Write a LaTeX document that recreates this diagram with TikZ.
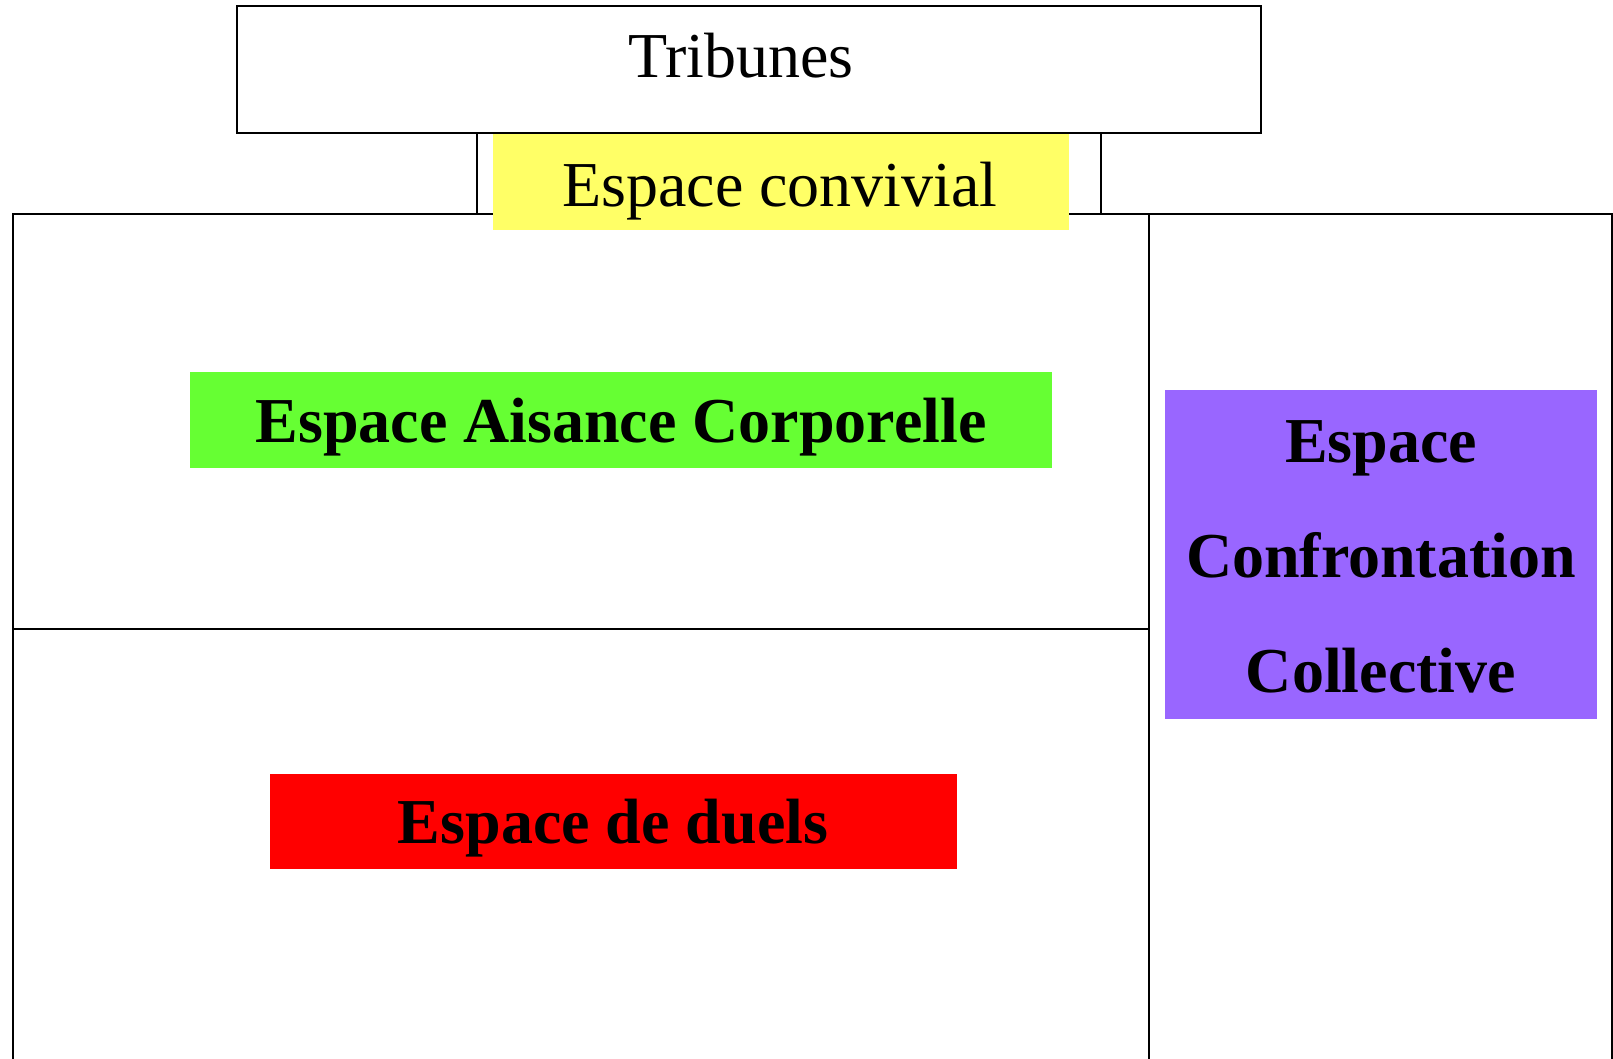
\documentclass[tikz,border=0pt]{standalone}
\usepackage{fontspec}
\setmainfont{Liberation Serif}
\definecolor{convyellow}{HTML}{FFFF66}
\definecolor{aisgreen}{HTML}{66FF33}
\definecolor{confpurple}{HTML}{9966FF}
\definecolor{duelred}{HTML}{FF0000}
\begin{document}
\begin{tikzpicture}[x=1pt,y=-1pt,
  wall/.style={draw=black,line width=1.6pt},
  lbl/.style={anchor=base,inner sep=0pt,font=\fontsize{64}{70}\selectfont},
  blbl/.style={lbl,font=\fontsize{64}{70}\selectfont\bfseries}]
\useasboundingbox (0,0) rectangle (1613,1058);
% main field
\draw[wall] (13,1060) -- (13,214) -- (1612,214) -- (1612,1060);
\draw[wall] (1149,214) -- (1149,1060);
\draw[wall] (13,629) -- (1149,629);
% convivial strip
\fill[convyellow] (493,133) rectangle (1069,230);
% tribunes and connecting frame
\draw[wall] (237,6) rectangle (1261,133);
\draw[wall] (477,133) -- (477,214);
\draw[wall] (1101,133) -- (1101,214);
% coloured zones
\fill[aisgreen] (190,372) rectangle (1052,468);
\fill[duelred] (270,774) rectangle (957,869);
\fill[confpurple] (1165,390) rectangle (1597,719);
% texts
\node[lbl] (trib) at (741,77) {Tribunes};
\node[lbl] (conv) at (780,206) {Espace convivial};
\node[blbl] (ais) at (621,442) {Espace Aisance Corporelle};
\node[blbl] (duel) at (613,843) {Espace de duels};
\node[blbl] (conf1) at (1381,462) {Espace};
\node[blbl] (conf2) at (1381,577) {Confrontation};
\node[blbl] (conf3) at (1381,692) {Collective};
\end{tikzpicture}
\end{document}
